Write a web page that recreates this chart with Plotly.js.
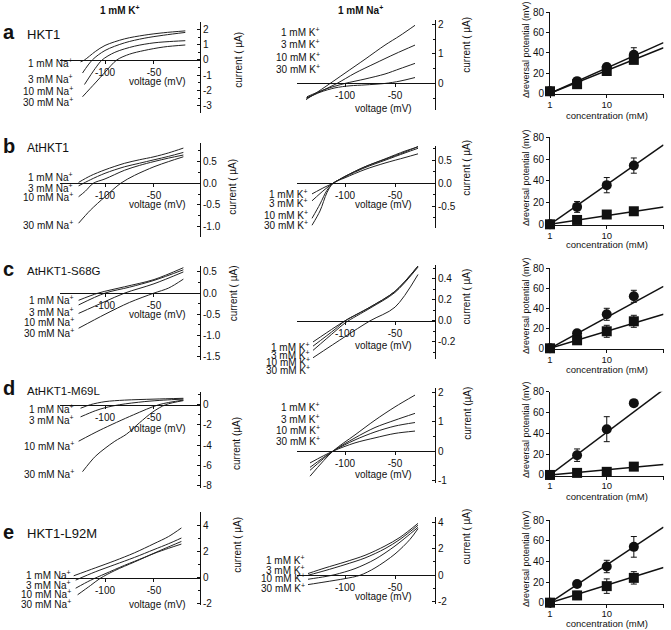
<!DOCTYPE html>
<html><head><meta charset="utf-8">
<script src="https://cdn.plot.ly/plotly-3.0.1.min.js"></script>
<style>html,body{margin:0;padding:0;background:#fff}#chart{width:671px;height:630px}</style>
</head><body><div id="chart"></div>
<script>
// ================= DATA =================
const columnHeads = ["1 mM K<sup>+</sup>", "1 mM Na<sup>+</sup>"];
const rowLetters = ["a", "b", "c", "d", "e"];
const rowNames = ["HKT1", "AtHKT1", "AtHKT1-S68G", "AtHKT1-M69L", "HKT1-L92M"];
const naLabels = ["1 mM Na<sup>+</sup>", "3 mM Na<sup>+</sup>", "10 mM Na<sup>+</sup>", "30 mM Na<sup>+</sup>"];
const kLabels = ["1 mM K<sup>+</sup>", "3 mM K<sup>+</sup>", "10 mM K<sup>+</sup>", "30 mM K<sup>+</sup>"];
const yTitleLeft = ["current ( µA)", "current ( µA)", "current ( µA)", "current (µA)", "current ( µA)"];
const yTitleMid = ["current ( µA)", "current ( µA)", "current ( µA)", "current (µA)", "current ( µA)"];
const xTitleIV = "voltage (mV)";
const xTitleConc = "concentration (mM)";
const yTitleConc = "Δreversal potential (mV)";

// --- row a (HKT1) ---
const aNa_V = [[-125,-121,-110,-100,-80,-60,-40,-18],[-123,-113,-100,-80,-60,-40,-18],[-121,-110,-103,-90,-70,-50,-30,-18],[-123,-110,-100,-88,-75,-60,-40,-18]];
const aNa_I = [[-0.12,0,0.55,0.95,1.38,1.62,1.78,1.9],[-0.85,0,0.62,1.12,1.42,1.62,1.8],[-1.6,-0.55,0,0.5,0.9,1.12,1.22,1.26],[-2.4,-1.5,-0.8,0,0.38,0.62,0.85,0.98]];
const aK_V = [[-139,-120,-100,-80,-60,-45,-30],[-139,-120,-108,-90,-70,-50,-30],[-138,-120,-100,-80,-60,-45,-30],[-138,-125,-110,-95,-80,-60,-45,-30]];
const aK_I = [[-0.55,-0.12,0.35,0.82,1.3,1.62,1.97],[-0.5,-0.2,0,0.35,0.68,1.0,1.3],[-0.45,-0.2,0,0.15,0.32,0.5,0.68],[-0.5,-0.3,-0.15,-0.08,-0.05,0,0.08,0.2]];
// --- row b (AtHKT1) ---
const bNa_V = [[-127,-115,-100,-80,-65,-50,-35,-20],[-127,-115,-100,-80,-65,-50,-35,-20],[-127,-120,-112,-100,-80,-65,-50,-35,-20],[-127,-115,-100,-84,-70,-50,-35,-20]];
const bNa_I = [[0.02,0.17,0.31,0.46,0.54,0.61,0.7,0.81],[-0.06,0.08,0.23,0.38,0.46,0.54,0.62,0.71],[-0.31,-0.18,0,0.1,0.3,0.41,0.5,0.58,0.65],[-0.92,-0.62,-0.31,0,0.18,0.38,0.5,0.61]];
const bK_V = [[-133,-120,-112,-100,-80,-60,-40,-27],[-133,-120,-112,-100,-80,-60,-40,-27],[-133,-125,-118,-112,-100,-80,-60,-40,-27],[-133,-125,-118,-112,-100,-80,-60,-40,-27]];
const bK_I = [[-0.23,-0.08,0,0.15,0.36,0.52,0.68,0.8],[-0.38,-0.13,0,0.15,0.36,0.53,0.7,0.79],[-0.76,-0.45,-0.15,0,0.14,0.34,0.5,0.66,0.76],[-0.91,-0.6,-0.2,0,0.12,0.3,0.44,0.56,0.64]];
// --- row c (AtHKT1-S68G) ---
const cNa_V = [[-127,-107,-80,-50,-20],[-127,-100,-75,-50,-20],[-127,-100,-80,-50,-20],[-127,-100,-75,-50,-35,-20]];
const cNa_I = [[-0.17,0,0.15,0.32,0.6],[-0.28,0,0.14,0.3,0.55],[-0.48,-0.2,0,0.22,0.5],[-0.83,-0.5,-0.22,0,0.12,0.33]];
const cK_V = [[-132,-110,-100,-75,-50,-27],[-132,-110,-100,-75,-50,-27],[-132,-110,-100,-75,-50,-27],[-132,-100,-75,-50,-27]];
const cK_I = [[-0.2,-0.06,0,0.13,0.28,0.52],[-0.24,-0.08,0,0.13,0.28,0.52],[-0.28,-0.1,-0.02,0.12,0.27,0.51],[-0.35,-0.15,0,0.13,0.44]];
// --- row d (AtHKT1-M69L) ---
const dNa_V = [[-125,-115,-100,-80,-50,-20],[-125,-110,-100,-85,-60,-40,-20],[-127,-105,-71,-45,-20],[-123,-110,-100,-90,-78,-65,-51,-38,-20]];
const dNa_I = [[-0.35,0,0.3,0.45,0.55,0.63],[-1.2,-0.6,-0.3,0,0.3,0.45,0.55],[-3.6,-2.5,-1.0,0,0.45],[-6.6,-5.1,-4.3,-3.6,-2.9,-1.8,-0.7,0,0.4]];
const dK_V = [[-135,-112,-90,-70,-50,-30],[-135,-112,-90,-70,-50,-30],[-135,-112,-90,-70,-50,-30],[-135,-112,-90,-70,-50,-30]];
const dK_I = [[-0.85,0,0.55,1.05,1.5,1.9],[-0.65,0,0.45,0.8,1.05,1.28],[-0.55,0,0.38,0.65,0.85,0.97],[-0.4,0,0.28,0.45,0.6,0.68]];
// --- row e (HKT1-L92M) ---
const eNa_V = [[-132,-110,-90,-70,-50,-35,-22],[-130,-110,-90,-70,-50,-35,-22],[-130,-115,-100,-80,-60,-40,-22],[-128,-115,-105,-90,-70,-50,-35,-22]];
const eNa_I = [[0.15,0.75,1.3,1.9,2.6,3.15,3.8],[-0.18,0.45,1.0,1.55,2.15,2.6,3.03],[-0.8,-0.2,0.3,0.95,1.55,2.2,2.77],[-1.3,-0.6,-0.05,0.55,1.2,1.85,2.25,2.57]];
const eK_V = [[-137,-120,-100,-80,-60,-45,-27],[-137,-120,-100,-80,-60,-45,-27],[-137,-120,-110,-90,-70,-50,-27],[-137,-120,-100,-85,-70,-50,-35,-27]];
const eK_I = [[0.13,0.55,1.0,1.5,2.2,2.85,3.9],[0.0,0.35,0.8,1.3,2.0,2.7,3.76],[-0.3,-0.1,0.05,0.5,1.2,2.2,3.6],[-0.7,-0.5,-0.25,0,0.55,1.6,2.7,3.5]];

// --- reversal potential shift vs concentration (circles: Na+, squares: K+) ---
const conc = [1, 3, 10, 30];
const fitConc = [1, 100];
const aNaShift = [2, 12, 26, 38], aNaErr = [0, 3, 3, 7], aKShift = [2, 9, 22, 33], aKErr = [0, 4, 2, 3], aNaFit = [0, 50], aKFit = [0, 45];
const bNaShift = [0, 16, 36, 54], bNaErr = [0, 5, 7, 7], bKShift = [0, 4, 9, 12], bKErr = [0, 1, 2, 2], bNaFit = [0, 73], bKFit = [0, 16];
const cNaShift = [0, 15, 34, 52], cNaErr = [0, 3, 6, 6], cKShift = [0, 8, 17, 27], cKErr = [0, 2, 6, 6], cNaFit = [0, 62], cKFit = [0, 34];
const dNaShift = [0, 19, 44, 69], dNaErr = [0, 6, 12, 3], dKShift = [0, 2, 3, 8], dKErr = [0, 1, 1, 1], dNaFit = [0, 82], dKFit = [0, 10];
const eNaShift = [0, 18, 35, 54], eNaErr = [0, 2, 6, 10], eKShift = [0, 7, 16, 24], eKErr = [0, 4, 7, 6], eNaFit = [0, 73], eKFit = [0, 34];

// tick values
const xTicksLeft = [-100, -50];
const xTicksMidA = [-150, -100, -50];
const xTicksMid = [-100, -50];
const yTicksLeft = [[-3,-2,-1,0,1,2], [-1,-0.5,0,0.5], [-1.5,-1,-0.5,0,0.5], [-8,-6,-4,-2,0], [-2,0,2,4]];
const yTicksMid = [[0,1,2], [-0.5,0,0.5], [-0.2,0,0.2,0.4], [-1,0,1,2], [-2,0,2,4]];
const yTicksConc = [0, 20, 40, 60, 80];
const xTicksConc = [1, 10, 100];

// ================= LAYOUT / DRAWING =================
const FONT = '"Liberation Sans", Arial, Helvetica, sans-serif';
const W = 671, H = 630;
const fx = p => p / W;
const fy = p => 1 - p / H;
const fmt = (v, d) => (v < 0 ? '-' : '') + Math.abs(v).toFixed(d);

const traces = [];
const layout = {
  width: W, height: H, margin: {l: 0, r: 0, t: 0, b: 0},
  showlegend: false, paper_bgcolor: '#fff', plot_bgcolor: 'rgba(0,0,0,0)',
  font: {family: FONT, size: 10, color: '#111'}, annotations: []
};
function note(text, x, y, o) {
  o = o || {};
  layout.annotations.push({
    text: text, x: fx(x), y: fy(y), xref: 'paper', yref: 'paper', showarrow: false,
    xanchor: o.xa || 'center', yanchor: o.ya || 'middle', textangle: o.angle || 0,
    font: {family: FONT, size: o.size || 10, color: '#111'}
  });
}
let nAx = 0;
function axNames() {
  nAx++;
  return {x: nAx === 1 ? 'x' : 'x' + nAx, y: nAx === 1 ? 'y' : 'y' + nAx,
          xk: nAx === 1 ? 'xaxis' : 'xaxis' + nAx, yk: nAx === 1 ? 'yaxis' : 'yaxis' + nAx};
}

function ivPanel(Vs, Is, g) {
  const n = axNames();
  const d0 = fy(g.yb), d1 = fy(g.yt);
  const lo = g.yr[0], hi = g.yr[1];
  const pos = d0 + (0 - lo) / (hi - lo) * (d1 - d0);
  const dec = g.dec;
  const step = g.yticks[1] - g.yticks[0];
  layout[n.xk] = {
    domain: [fx(g.xd[0]), fx(g.xd[1])], range: g.xr, anchor: 'free', position: pos,
    showline: true, linecolor: '#111', linewidth: 1, showgrid: false, zeroline: false,
    ticks: 'outside', ticklen: 3, tickcolor: '#111', tickmode: 'array',
    tickvals: g.xticks, ticktext: g.xticks.map(v => fmt(v, 0)),
    tickfont: {family: FONT, size: 10, color: '#111'}, fixedrange: true
  };
  layout[n.yk] = {
    domain: [d0, d1], range: [lo, hi], anchor: n.x, side: 'right',
    showline: true, linecolor: '#111', linewidth: 1, showgrid: false, zeroline: false,
    ticks: 'inside', ticklen: 3, tickcolor: '#111', tickmode: 'array',
    tickvals: g.yticks, ticktext: g.yticks.map(v => fmt(v, dec)),
    minor: {ticks: 'inside', ticklen: 2, tickcolor: '#111', tickmode: 'linear', tick0: 0, dtick: step / 2},
    tickfont: {family: FONT, size: 10, color: '#111'}, fixedrange: true
  };
  for (let i = 0; i < Vs.length; i++) {
    traces.push({x: Vs[i], y: Is[i], xaxis: n.x, yaxis: n.y, type: 'scatter', mode: 'lines',
      line: {color: '#222', width: 1, shape: 'spline', smoothing: 0.9}, hoverinfo: 'skip'});
  }
}

function concPanel(na, naErr, k, kErr, naFit, kFit, g) {
  const n = axNames();
  layout[n.xk] = {
    domain: [fx(550), fx(663.5)], type: 'log', range: [0, 2], anchor: n.y,
    showline: true, linecolor: '#111', linewidth: 1, showgrid: false, zeroline: false,
    ticks: 'outside', ticklen: 3, tickcolor: '#111', tickmode: 'array',
    tickvals: xTicksConc, ticktext: xTicksConc.map(String), ticklabelstandoff: -2,
    tickfont: {family: FONT, size: 9.5, color: '#111'}, fixedrange: true
  };
  layout[n.yk] = {
    domain: [fy(g.yb), fy(g.yt)], range: [-1, 80], anchor: n.x, side: 'left',
    showline: true, linecolor: '#111', linewidth: 1, showgrid: false, zeroline: false,
    ticks: 'outside', ticklen: 3, tickcolor: '#111', tickmode: 'array',
    tickvals: yTicksConc, ticktext: yTicksConc.map(String),
    tickfont: {family: FONT, size: 10, color: '#111'}, fixedrange: true
  };
  traces.push({x: fitConc, y: naFit, xaxis: n.x, yaxis: n.y, mode: 'lines', line: {color: '#111', width: 1.5}, hoverinfo: 'skip'});
  traces.push({x: fitConc, y: kFit, xaxis: n.x, yaxis: n.y, mode: 'lines', line: {color: '#111', width: 1.5}, hoverinfo: 'skip'});
  traces.push({x: conc, y: na, xaxis: n.x, yaxis: n.y, mode: 'markers', cliponaxis: false,
    marker: {symbol: 'circle', size: 10, color: '#111'},
    error_y: {type: 'data', array: naErr, visible: true, color: '#111', thickness: 1, width: 3}, hoverinfo: 'skip'});
  traces.push({x: conc, y: k, xaxis: n.x, yaxis: n.y, mode: 'markers', cliponaxis: false,
    marker: {symbol: 'square', size: 10, color: '#111'},
    error_y: {type: 'data', array: kErr, visible: true, color: '#111', thickness: 1, width: 3}, hoverinfo: 'skip'});
}

// geometry (pixels)
const LEFT_X = [60, 200], LEFT_R = [-146, -3];
const MID_X = [297, 435], MID_R = [-148, -10];
const leftY = [[22, 113, [-3.46, 2.48]], [143.3, 236.7, [-1.23, 0.92]], [266, 360, [-1.58, 0.64]], [391.7, 488.3, [-8.24, 1.28]], [511.7, 605, [-2.08, 5.04]]];
const midY = [[20, 110, [-0.9, 2.15]], [146, 228, [-0.97, 0.81]], [265, 358.8, [-0.36, 0.53]], [388, 483, [-1.08, 2.14]], [516.7, 603.5, [-2.12, 4.4]]];
const rightY = [[12.3, 94.3], [137.3, 225.4], [268.3, 349.3], [391.7, 476], [520, 603.7]];
const leftDec = [0, 1, 1, 0, 0], midDec = [0, 1, 1, 0, 0];

const NaV = [aNa_V, bNa_V, cNa_V, dNa_V, eNa_V], NaI = [aNa_I, bNa_I, cNa_I, dNa_I, eNa_I];
const KV = [aK_V, bK_V, cK_V, dK_V, eK_V], KI = [aK_I, bK_I, cK_I, dK_I, eK_I];
const shifts = [
  [aNaShift, aNaErr, aKShift, aKErr, aNaFit, aKFit],
  [bNaShift, bNaErr, bKShift, bKErr, bNaFit, bKFit],
  [cNaShift, cNaErr, cKShift, cKErr, cNaFit, cKFit],
  [dNaShift, dNaErr, dKShift, dKErr, dNaFit, dKFit],
  [eNaShift, eNaErr, eKShift, eKErr, eNaFit, eKFit]
];

for (let r = 0; r < 5; r++) {
  ivPanel(NaV[r], NaI[r], {xd: LEFT_X, xr: LEFT_R, yt: leftY[r][0], yb: leftY[r][1], yr: leftY[r][2],
    xticks: xTicksLeft, yticks: yTicksLeft[r], dec: leftDec[r]});
  ivPanel(KV[r], KI[r], {xd: MID_X, xr: MID_R, yt: midY[r][0], yb: midY[r][1], yr: midY[r][2],
    xticks: r === 0 ? xTicksMidA : xTicksMid, yticks: yTicksMid[r], dec: midDec[r]});
  const s = shifts[r];
  concPanel(s[0], s[1], s[2], s[3], s[4], s[5], {yt: rightY[r][0], yb: rightY[r][1]});
}

// ---- text ----
note('<b>' + columnHeads[0] + '</b>', 120, 10);
note('<b>' + columnHeads[1] + '</b>', 360, 10);
const letterY = [32, 146, 269, 388, 532];
const nameY = [34, 148, 270.5, 391, 533];
const nameSize = [13, 12, 11.5, 11.5, 13];
for (let r = 0; r < 5; r++) {
  note('<b>' + rowLetters[r] + '</b>', 1, letterY[r], {xa: 'left', size: 20});
  note(rowNames[r], 25, nameY[r], {xa: 'left', size: nameSize[r]});
}
const labL = [[75, [63.3, 79, 90.7, 101.7]], [75, [176.7, 188, 197, 225]], [76, [300, 311.7, 321.7, 333.3]], [76, [409, 420, 445.7, 474.3]], [73.3, [575, 585, 594.3, 604]]];
const labM = [[321.7, [32.3, 44.3, 56.7, 68.7]], [310, [193.5, 203.5, 214.5, 225]], [311.7, [346.5, 355, 362.5, 370]], [321.7, [407.3, 419.3, 430, 441]], [306.7, [560, 569.5, 578, 587.7]]];
const xtL = [82, 205, 314, 428.3, 604.3], xtM = [108, 205, 345, 474.3, 596], xtR = [115, 245, 369, 496, 623];
const ytLx = [237.7, 233, 233, 236.7, 236.7], ytLy = [60, 186.7, 293.3, 443.3, 545];
const ytMy = [45, 168, 296.7, 413, 536.7];
const ytRy = [50, 178, 306, 430, 559];
for (let r = 0; r < 5; r++) {
  for (let i = 0; i < 4; i++) {
    note(naLabels[i], labL[r][0], labL[r][1][i], {xa: 'right'});
    note(kLabels[i], labM[r][0], labM[r][1][i], {xa: 'right'});
  }
  note(xTitleIV, 157, xtL[r]);
  note(xTitleIV, 383, xtM[r]);
  note(xTitleConc, 607, xtR[r], {size: 9.5});
  note(yTitleLeft[r], ytLx[r], ytLy[r], {angle: -90});
  note(yTitleMid[r], 466.7, ytMy[r], {angle: -90});
  note(yTitleConc, 526, ytRy[r], {angle: -90, size: 9});
}

Plotly.newPlot('chart', traces, layout, {staticPlot: true, displayModeBar: false});
</script>
</body></html>
